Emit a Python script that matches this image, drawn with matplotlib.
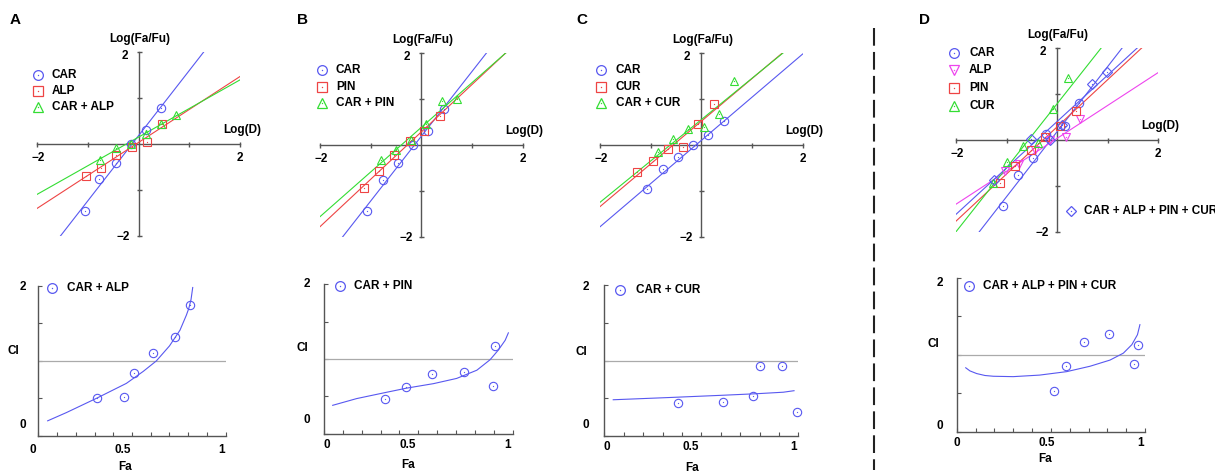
import numpy as np
import matplotlib
matplotlib.use('Agg')
import matplotlib.pyplot as plt
from matplotlib.lines import Line2D

# ---------------- data ----------------
# Median-effect plots: log(D) vs log(Fa/Fu)  (points + fitted line slope m, intercept b)
A_car_x = [-1.06, -0.77, -0.45, -0.15, 0.14, 0.45]
A_car_y = [-1.45, -0.76, -0.41, 0.00, 0.30, 0.79]
A_alp_x = [-1.03, -0.73, -0.44, -0.13, 0.16, 0.47]
A_alp_y = [-0.70, -0.53, -0.23, -0.06, 0.05, 0.44]
A_mix_x = [-0.75, -0.45, -0.15, 0.14, 0.45, 0.74]
A_mix_y = [-0.35, -0.08, 0.01, 0.21, 0.44, 0.62]
A_fit = {'CAR': (1.417, 0.18), 'ALP': (0.717, 0.033), 'CAR + ALP': (0.6225, 0.149)}

B_car_x = [-1.07, -0.76, -0.46, -0.16, 0.14, 0.44]
B_car_y = [-1.43, -0.76, -0.40, 0.01, 0.30, 0.78]
B_pin_x = [-1.13, -0.83, -0.53, -0.22, 0.05, 0.37]
B_pin_y = [-0.94, -0.56, -0.22, 0.09, 0.31, 0.63]
B_mix_x = [-0.80, -0.50, -0.21, 0.09, 0.40, 0.70]
B_mix_y = [-0.32, -0.11, 0.11, 0.45, 0.96, 0.99]
B_fit = {'CAR': (1.404, 0.19), 'PIN': (1.027, 0.284), 'CAR + PIN': (0.968, 0.383)}

C_car_x = [-1.07, -0.76, -0.46, -0.16, 0.14, 0.44]
C_car_y = [-0.96, -0.51, -0.27, 0.01, 0.22, 0.53]
C_cur_x = [-1.26, -0.96, -0.66, -0.36, -0.07, 0.24]
C_cur_y = [-0.59, -0.34, -0.09, -0.04, 0.45, 0.89]
C_mix_x = [-0.85, -0.55, -0.26, 0.05, 0.35, 0.65]
C_mix_y = [-0.16, 0.12, 0.34, 0.39, 0.67, 1.39]
C_fit = {'CAR': (0.936, 0.10), 'CUR': (0.925, 0.515), 'CAR + CUR': (0.896, 0.55)}

D_car_x = [-1.08, -0.77, -0.47, -0.22, 0.15, 0.44]
D_car_y = [-1.44, -0.76, -0.39, 0.13, 0.30, 0.81]
D_alp_x = [-1.03, -0.75, -0.44, -0.14, 0.17, 0.46]
D_alp_y = [-0.68, -0.53, -0.23, -0.01, 0.07, 0.45]
D_pin_x = [-1.13, -0.83, -0.52, -0.24, 0.06, 0.37]
D_pin_y = [-0.95, -0.56, -0.23, 0.07, 0.31, 0.63]
D_cur_x = [-1.26, -0.99, -0.67, -0.37, -0.08, 0.22]
D_cur_y = [-0.94, -0.49, -0.14, -0.07, 0.67, 1.34]
D_mix_x = [-1.24, -0.52, -0.15, 0.10, 0.68, 0.98]
D_mix_y = [-0.88, 0.02, 0.00, 0.32, 1.21, 1.47]
D_fit = {'CAR': (1.417, 0.18), 'ALP': (0.717, 0.033), 'PIN': (1.027, 0.284),
         'CUR': (1.394, 0.787), 'CAR + ALP + PIN + CUR': (1.011, 0.40)}

# Fa-CI plots (points + simulated curve)
A_fa = [0.315, 0.457, 0.512, 0.614, 0.73, 0.811]
A_ci = [0.51, 0.52, 0.84, 1.10, 1.32, 1.74]
A_cfa = [0.05, 0.15, 0.31, 0.47, 0.56, 0.63, 0.70, 0.756, 0.79, 0.803, 0.815, 0.824]
A_cci = [0.20, 0.31, 0.50, 0.70, 0.86, 1.00, 1.20, 1.41, 1.61, 1.70, 1.82, 1.98]

B_fa = [0.323, 0.435, 0.571, 0.742, 0.898, 0.908]
B_ci = [0.47, 0.63, 0.80, 0.83, 0.64, 1.18]
B_cfa = [0.046, 0.173, 0.323, 0.438, 0.58, 0.703, 0.81, 0.88, 0.924, 0.96, 0.977]
B_cci = [0.38, 0.47, 0.55, 0.61, 0.67, 0.74, 0.85, 0.99, 1.12, 1.25, 1.35]

C_fa = [0.381, 0.612, 0.768, 0.804, 0.914, 0.991]
C_ci = [0.44, 0.45, 0.53, 0.93, 0.93, 0.32]
C_cfa = [0.046, 0.338, 0.613, 0.785, 0.923, 0.978]
C_cci = [0.48, 0.51, 0.54, 0.56, 0.58, 0.60]

D_fa = [0.519, 0.579, 0.678, 0.81, 0.94, 0.965]
D_ci = [0.53, 0.85, 1.17, 1.27, 0.88, 1.13]
D_cfa = [0.048, 0.07, 0.106, 0.15, 0.195, 0.30, 0.44, 0.584, 0.708, 0.814, 0.885, 0.93, 0.96, 0.973]
D_cci = [0.83, 0.79, 0.755, 0.73, 0.72, 0.715, 0.735, 0.78, 0.85, 0.93, 1.02, 1.13, 1.26, 1.39]

# ---------------- style ----------------
W, H = 1215, 473
plt.rcParams['font.family'] = ['Liberation Sans', 'DejaVu Sans']
FS = 8.5
AXC = '#555555'
BLUE, RED, GREEN, MAG = '#5858f0', '#ee4444', '#33dd33', '#ee44ee'

fig = plt.figure(figsize=(W / 100, H / 100), dpi=100)


def fx(x):
    return x / W


def fy(y):
    return 1 - y / H


def ptext(x, y, s, size=FS, ha='center', va='center'):
    fig.text(fx(x), fy(y), s, fontsize=size, fontweight='bold', ha=ha, va=va)


def pmark(x, y, marker, color, ms=6.5):
    fig.add_artist(Line2D([fx(x)], [fy(y)], marker=marker, ms=ms, mfc='none',
                          mec=color, mew=0.9, ls='none', transform=fig.transFigure))
    fig.add_artist(Line2D([fx(x)], [fy(y)], marker='o', ms=1.0, mfc=color,
                          mec=color, mew=0, ls='none', transform=fig.transFigure))


def add_ax(x0, x1, y0, y1):
    return fig.add_axes([fx(x0), fy(y1), (x1 - x0) / W, (y1 - y0) / H])


def draw_points(ax, x, y, marker, color, ms=6):
    ax.plot(x, y, ls='none', marker=marker, ms=ms, mfc='none', mec=color,
            mew=0.8, clip_on=False, zorder=4)
    ax.plot(x, y, ls='none', marker='o', ms=0.9, mfc=color, mec=color,
            mew=0, clip_on=False, zorder=4)


def median_panel(box, series, fits):
    left, right, top, bottom = box
    ax = add_ax(*box)
    ax.set_xlim(-2, 2)
    ax.set_ylim(-2, 2)
    ax.patch.set_visible(False)
    for s in ['top', 'right']:
        ax.spines[s].set_visible(False)
    for s in ['left', 'bottom']:
        ax.spines[s].set_position('zero')
        ax.spines[s].set_color(AXC)
        ax.spines[s].set_linewidth(1.0)
    ax.set_xticks([-2, -1, 1, 2])
    ax.set_yticks([-2, -1, 1, 2])
    ax.tick_params(direction='inout', length=3.6, width=1.0, colors=AXC,
                   labelbottom=False, labelleft=False)
    xs = np.array([-2.0, 2.0])
    for name, x, y, marker, color in series:
        m, b = fits[name]
        ax.plot(xs, m * xs + b, color=color, lw=0.8, zorder=3)
        draw_points(ax, x, y, marker, color, ms=5 if marker == 'D' else 6)
    ox = (left + right) / 2
    oy = (top + bottom) / 2
    ptext(ox + 1, top - 13, 'Log(Fa/Fu)')
    ptext(right + 2, oy - 14, 'Log(D)')
    ptext(ox - 14, top + 4, '2')
    ptext(ox - 15, bottom + 1, '\u22122')
    ptext(left + 1, oy + 14, '\u22122')
    ptext(right, oy + 14, '2')
    return ax


def ci_panel(box, fa, ci, cfa, cci, labels):
    ax = add_ax(*box)
    ax.set_xlim(0, 1)
    ax.set_ylim(0, 2)
    ax.patch.set_visible(False)
    for s in ['top', 'right']:
        ax.spines[s].set_visible(False)
    for s in ['left', 'bottom']:
        ax.spines[s].set_color(AXC)
        ax.spines[s].set_linewidth(1.0)
    ax.set_xticks(np.round(np.arange(0, 1.01, 0.1), 1))
    ax.set_yticks([0, 0.5, 1, 1.5, 2])
    ax.tick_params(direction='in', length=3, width=0.8, colors=AXC,
                   labelbottom=False, labelleft=False)
    ax.axhline(1, color='#aaaaaa', lw=0.9, zorder=2)
    ax.plot(cfa, cci, color=BLUE, lw=0.8, zorder=3)
    draw_points(ax, fa, ci, 'o', BLUE)
    for (x, y, s) in labels:
        ptext(x, y, s)
    return ax


# ---------------- top row ----------------
median_panel((37, 240, 52, 236),
             [('CAR', A_car_x, A_car_y, 'o', BLUE),
              ('ALP', A_alp_x, A_alp_y, 's', RED),
              ('CAR + ALP', A_mix_x, A_mix_y, '^', GREEN)], A_fit)
median_panel((320, 522.7, 52.7, 237.3),
             [('CAR', B_car_x, B_car_y, 'o', BLUE),
              ('PIN', B_pin_x, B_pin_y, 's', RED),
              ('CAR + PIN', B_mix_x, B_mix_y, '^', GREEN)], B_fit)
median_panel((600, 802.7, 52.7, 237.3),
             [('CAR', C_car_x, C_car_y, 'o', BLUE),
              ('CUR', C_cur_x, C_cur_y, 's', RED),
              ('CAR + CUR', C_mix_x, C_mix_y, '^', GREEN)], C_fit)
median_panel((956, 1158.3, 48, 231.7),
             [('CAR', D_car_x, D_car_y, 'o', BLUE),
              ('ALP', D_alp_x, D_alp_y, 'v', MAG),
              ('PIN', D_pin_x, D_pin_y, 's', RED),
              ('CUR', D_cur_x, D_cur_y, '^', GREEN),
              ('CAR + ALP + PIN + CUR', D_mix_x, D_mix_y, 'D', BLUE)], D_fit)

# legends (top row)
def legend(mx, tx, rows):
    for y, marker, color, label, ms in rows:
        pmark(mx, y, marker, color, ms)
        ptext(tx, y, label, ha='left')

legend(38, 52, [(75, 'o', BLUE, 'CAR', 7), (91, 's', RED, 'ALP', 6.5), (107, '^', GREEN, 'CAR + ALP', 7.5)])
legend(322, 336, [(70, 'o', BLUE, 'CAR', 7), (87, 's', RED, 'PIN', 6.5), (103, '^', GREEN, 'CAR + PIN', 7.5)])
legend(601, 616, [(70, 'o', BLUE, 'CAR', 7), (87, 's', RED, 'CUR', 6.5), (103, '^', GREEN, 'CAR + CUR', 7.5)])
legend(954, 969, [(53, 'o', BLUE, 'CAR', 7), (70, 'v', MAG, 'ALP', 7.5), (88, 's', RED, 'PIN', 6.5),
                  (106, '^', GREEN, 'CUR', 7.5)])
legend(1071, 1084, [(211, 'D', BLUE, 'CAR + ALP + PIN + CUR', 5.5)])

# ---------------- bottom row ----------------
ci_panel((38.3, 225.7, 286, 435.8), A_fa, A_ci, A_cfa, A_cci,
         [(33, 450, '0'), (123, 450, '0.5'), (222, 450, '1'), (23, 287, '2'), (23, 425, '0'),
          (13, 351, 'CI'), (125, 467, 'Fa')])
ci_panel((324, 512.7, 284.3, 433.7), B_fa, B_ci, B_cfa, B_cci,
         [(327, 445, '0'), (408, 445, '0.5'), (508, 445, '1'), (307, 284, '2'), (307, 420, '0'),
          (302, 348, 'CI'), (408, 465, 'Fa')])
ci_panel((604.3, 798.3, 285, 436), C_fa, C_ci, C_cfa, C_cci,
         [(607, 447, '0'), (691, 447, '0.5'), (794, 447, '1'), (586, 287, '2'), (586, 425, '0'),
          (581, 352, 'CI'), (692, 468, 'Fa')])
ci_panel((956.7, 1145, 277.7, 431.7), D_fa, D_ci, D_cfa, D_cci,
         [(957, 443, '0'), (1047, 443, '0.5'), (1141, 443, '1'), (940, 283, '2'), (940, 426, '0'),
          (933, 344, 'CI'), (1045, 459, 'Fa')])

legend(52, 67, [(288, 'o', BLUE, 'CAR + ALP', 7)])
legend(340, 354, [(286, 'o', BLUE, 'CAR + PIN', 7)])
legend(620, 636, [(290, 'o', BLUE, 'CAR + CUR', 7)])
legend(969, 983, [(286, 'o', BLUE, 'CAR + ALP + PIN + CUR', 7)])

# panel letters
for x, y, s in [(15, 20, 'A'), (302, 20, 'B'), (582, 20, 'C'), (925, 20, 'D')]:
    ptext(x, y, s, size=11)

# vertical dashed separator
fig.add_artist(Line2D([fx(874), fx(874)], [fy(28), fy(470)], color='#222222', lw=1.5,
                      dashes=(8.5, 3), transform=fig.transFigure))

fig.savefig('out.png', dpi=100)
